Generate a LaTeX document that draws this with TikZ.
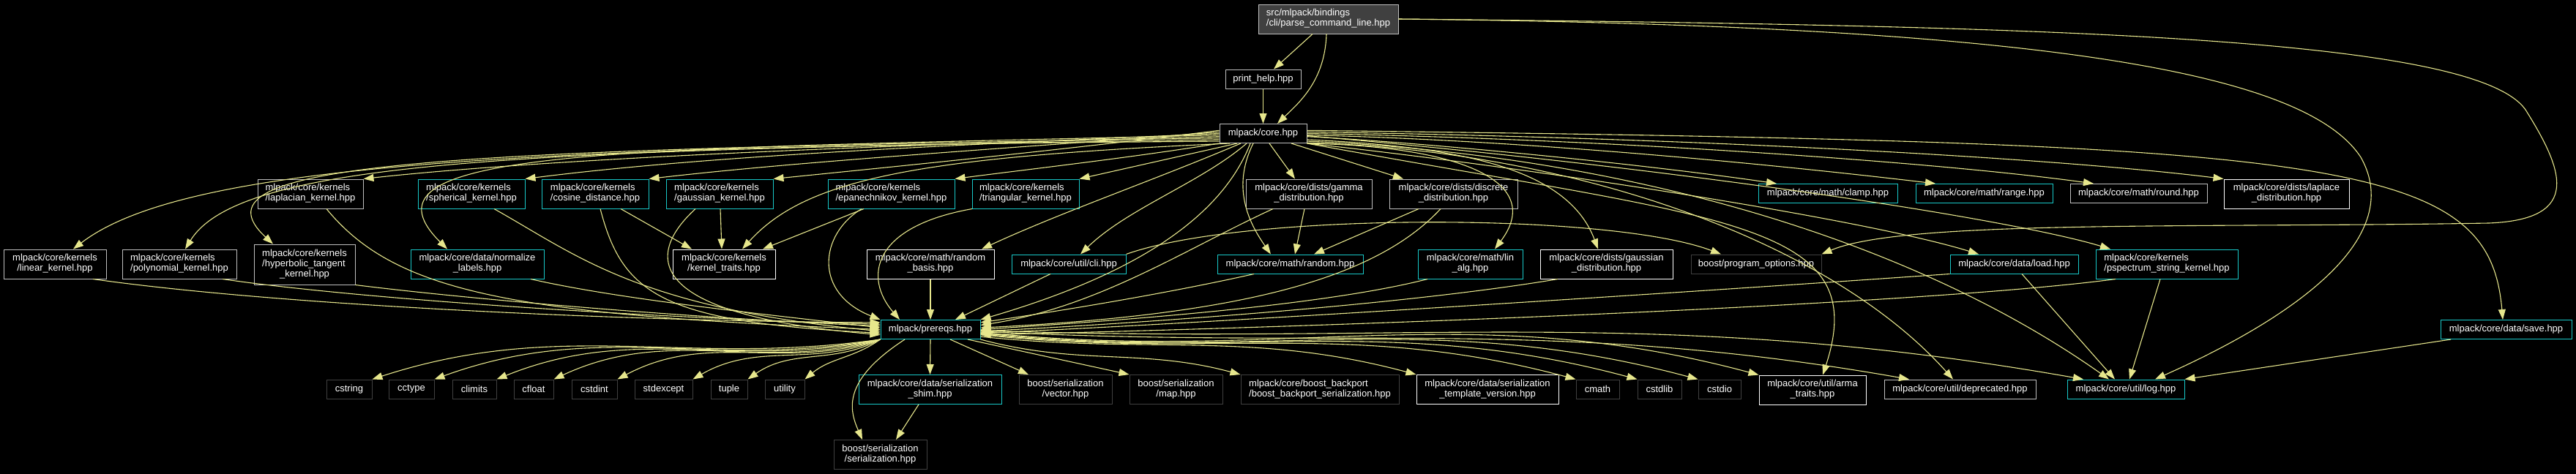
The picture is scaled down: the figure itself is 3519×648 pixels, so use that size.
\documentclass[tikz,border=0pt]{standalone}
\usepackage{fontspec}
\setmainfont{Liberation Sans}
\usetikzlibrary{arrows.meta}
\definecolor{edgeyel}{RGB}{230,230,140}
\definecolor{bordcyan}{RGB}{24,200,200}
\definecolor{bordgray}{RGB}{191,191,191}
\definecolor{borddark}{RGB}{64,64,64}
% doxygen style labels: first lines left, last line centred
\newcommand{\flabel}[2]{\begin{tabular}{@{}l@{}}#1\\\multicolumn{1}{@{}c@{}}{#2}\end{tabular}}
\newcommand{\flabelc}[3]{\begin{tabular}{@{}l@{}}#1\\#2\\\multicolumn{1}{@{}c@{}}{#3}\end{tabular}}

\begin{document}
\begin{tikzpicture}[x=0.5pt,y=-0.5pt,>={Triangle[length=7pt,width=5pt]},font=\fontsize{6.5}{7}\selectfont,
  wd/.style={minimum width=#1*0.5pt}]
\tikzstyle{f}=[draw,fill=black,text=white,align=center,inner sep=0pt,line width=0.5pt]
\tikzstyle{fg}=[f,draw=bordgray]
\tikzstyle{fw}=[f,draw=white]
\tikzstyle{fc}=[f,draw=bordcyan]
\tikzstyle{fd}=[f,draw=borddark]
\tikzstyle{one}=[minimum height=13pt]
\tikzstyle{two}=[minimum height=20pt]
\tikzstyle{e}=[->,draw=edgeyel,line width=0.55pt]
\fill[black] (0,0) rectangle (3519,648);
\useasboundingbox (0,0) rectangle (3519,648);
% files
\node[fg,fill=borddark,wd=191,two] (parse) at (1814.5,26) {\flabel{src/mlpack/bindings}{/cli/parse\_command\_line.hpp}};
\node[fg,wd=103,one] (printhelp) at (1725.5,108) {print\_help.hpp};
\node[fg,wd=119,one] (core) at (1725.5,182.5) {mlpack/core.hpp};
\node[fg,wd=144,two] (laplacian) at (424,265) {\flabel{mlpack/core/kernels}{/laplacian\_kernel.hpp}};
\node[fc,wd=146,two] (spherical) at (644,265) {\flabel{mlpack/core/kernels}{/spherical\_kernel.hpp}};
\node[fc,wd=146,two] (cosine) at (813,265) {\flabel{mlpack/core/kernels}{/cosine\_distance.hpp}};
\node[fc,wd=146,two] (gaussk) at (983,265) {\flabel{mlpack/core/kernels}{/gaussian\_kernel.hpp}};
\node[fc,wd=173,two] (epan) at (1217.5,265) {\flabel{mlpack/core/kernels}{/epanechnikov\_kernel.hpp}};
\node[fc,wd=146,two] (triang) at (1401,265) {\flabel{mlpack/core/kernels}{/triangular\_kernel.hpp}};
\node[fg,wd=172,two] (gamma) at (1788,265) {\flabel{mlpack/core/dists/gamma}{\_distribution.hpp}};
\node[fg,wd=175,two] (discrete) at (1985.5,265) {\flabel{mlpack/core/dists/discrete}{\_distribution.hpp}};
\node[fc,wd=190,one] (clamp) at (2497,264.5) {mlpack/core/math/clamp.hpp};
\node[fc,wd=187,one] (range) at (2710.5,264.5) {mlpack/core/math/range.hpp};
\node[fg,wd=187,one] (round) at (2921.5,264.5) {mlpack/core/math/round.hpp};
\node[fw,wd=171,two] (laplacedist) at (3123.5,265) {\flabel{mlpack/core/dists/laplace}{\_distribution.hpp}};
\node[fg,wd=140,two] (linear) at (75,361) {\flabel{mlpack/core/kernels}{/linear\_kernel.hpp}};
\node[fg,wd=156,two] (poly) at (245,361) {\flabel{mlpack/core/kernels}{/polynomial\_kernel.hpp}};
\node[fg,wd=138,minimum height=27.5pt] (hyper) at (416,361.5) {\flabelc{mlpack/core/kernels}{/hyperbolic\_tangent}{\_kernel.hpp}};
\node[fc,wd=182,two] (normalize) at (652,361) {\flabel{mlpack/core/data/normalize}{\_labels.hpp}};
\node[fw,wd=140,two] (ktraits) at (989,361) {\flabel{mlpack/core/kernels}{/kernel\_traits.hpp}};
\node[fw,wd=174,two] (rbasis) at (1271,361) {\flabel{mlpack/core/math/random}{\_basis.hpp}};
\node[fc,wd=156,one] (cli) at (1460,361) {mlpack/core/util/cli.hpp};
\node[fc,wd=199,one] (mrandom) at (1762.5,361) {mlpack/core/math/random.hpp};
\node[fc,wd=143,two] (linalg) at (2008.5,361) {\flabel{mlpack/core/math/lin}{\_alg.hpp}};
\node[fw,wd=181,two] (gaussdist) at (2194.5,361) {\flabel{mlpack/core/dists/gaussian}{\_distribution.hpp}};
\node[fd,wd=178,one] (progopt) at (2399,361) {boost/program\_options.hpp};
\node[fc,wd=175,one] (load) at (2751.5,361) {mlpack/core/data/load.hpp};
\node[fc,wd=194,two] (pspec) at (2960,361) {\flabel{mlpack/core/kernels}{/pspectrum\_string\_kernel.hpp}};
\node[fc,wd=136,one] (prereqs) at (1271,450.5) {mlpack/prereqs.hpp};
\node[fc,wd=179,one] (save) at (3423.5,450.5) {mlpack/core/data/save.hpp};
\foreach \n/\x/\w in {cstring/477/62,cctype/562/62,climits/648/60,cfloat/729/54,cstdint/812/62,stdexcept/906.5/79,tuple/996/50,utility/1072/54,cmath/2182.5/59,cstdlib/2267/60,cstdio/2349/58}
  \node[fd,wd=\w,one] (\n) at (\x,532) {\n};
\node[fc,wd=195,two] (shim) at (1270.5,532.5) {\flabel{mlpack/core/data/serialization}{\_shim.hpp}};
\node[fd,wd=127,two] (bvector) at (1455.5,532.5) {\flabel{boost/serialization}{/vector.hpp}};
\node[fd,wd=127,two] (bmap) at (1606.5,532.5) {\flabel{boost/serialization}{/map.hpp}};
\node[fd,wd=216,two] (backport) at (1803,532.5) {\flabel{mlpack/core/boost\_backport}{/boost\_backport\_serialization.hpp}};
\node[fw,wd=194,two] (tversion) at (2032,532.5) {\flabel{mlpack/core/data/serialization}{\_template\_version.hpp}};
\node[fw,wd=146,two] (arma) at (2476,533) {\flabel{mlpack/core/util/arma}{\_traits.hpp}};
\node[fg,wd=207,one] (deprec) at (2677.5,532) {mlpack/core/util/deprecated.hpp};
\node[fc,wd=160,one] (log) at (2904,532) {mlpack/core/util/log.hpp};
\node[fd,wd=127,two] (bserial) at (1202.5,621.5) {\flabel{boost/serialization}{/serialization.hpp}};
% top of the graph
\draw[e] (1793,0 |- parse.south) -- (1740,0 |- printhelp.north);
\draw[e] (1812,0 |- parse.south) .. controls (1810,110) and (1775,140) .. (1745,0 |- core.north);
\draw[e] (printhelp) -- (core);
\draw[e] (parse.east) .. controls (2800,35) and (3380,50) .. (3450,150) .. controls (3500,230) and (3530,300) .. (3400,305) .. controls (3000,312) and (2600,300) .. (progopt.north east);
\draw[e] (parse.east) .. controls (2800,35) and (3150,100) .. (3225,215) .. controls (3290,330) and (3120,440) .. (2944,0 |- log.north);
% core.hpp, left half
\draw[e] (core.190) .. controls (700,200) and (250,225) .. (100,0 |- linear.north);
\draw[e] (core.188) .. controls (750,205) and (330,215) .. (253,0 |- poly.north);
\draw[e] (core.186) .. controls (600,205) and (250,220) .. (373,0 |- hyper.north);
\draw[e] (core.184) .. controls (1100,200) and (700,222) .. (laplacian.north east);
\draw[e] (core.182) .. controls (850,205) and (470,200) .. (611,0 |- normalize.north);
\draw[e] (core.180) .. controls (1250,200) and (950,215) .. (spherical.north east);
\draw[e] (core.178) .. controls (1350,205) and (1100,220) .. (cosine.north east);
\draw[e] (core.176) .. controls (1450,205) and (1250,225) .. (gaussk.north east);
\draw[e] (core.south west) .. controls (1550,215) and (1400,232) .. (epan.north east);
\draw[e] (1690,0 |- core.south) -- (triang.north east);
\draw[e] (1680,0 |- core.south) .. controls (1250,215) and (1100,245) .. (1014,0 |- ktraits.north);
\draw[e] (1695,0 |- core.south) .. controls (1580,245) and (1450,290) .. (1341,0 |- rbasis.north);
\draw[e] (1703,0 |- core.south) .. controls (1640,250) and (1540,285) .. (1476,0 |- cli.north);
\draw[e] (1708,0 |- core.south) .. controls (1660,320) and (1500,390) .. (prereqs.north east);
\draw[e] (1712,0 |- core.south) .. controls (1680,260) and (1710,310) .. (1736,0 |- mrandom.north);
\draw[e] (1734,0 |- core.south) -- (1769,0 |- gamma.north);
\draw[e] (1764,0 |- core.south) -- (1917,0 |- discrete.north);
% core.hpp, right half
\draw[e] (core.south east) .. controls (2000,200) and (2110,250) .. (2042,0 |- linalg.north);
\draw[e] (core.-8) .. controls (1980,200) and (2140,225) .. (2183,0 |- gaussdist.north);
\draw[e] (core.-4) .. controls (1950,195) and (2250,225) .. (2427,0 |- clamp.north);
\draw[e] (core.-2) .. controls (2100,192) and (2450,228) .. (2644,0 |- range.north);
\draw[e] (core.0) .. controls (2200,190) and (2650,222) .. (2860,0 |- round.north);
\draw[e] (core.2) .. controls (2300,188) and (2800,215) .. (laplacedist.north west);
\draw[e] (core.4) .. controls (3200,195) and (3400,215) .. (3419,0 |- save.north);
\draw[e] (core.-10) .. controls (2200,210) and (2600,320) .. (2881,0 |- log.north);
\draw[e] (core.-12) .. controls (2150,205) and (2500,330) .. (2668,0 |- deprec.north);
\draw[e] (core.south east) .. controls (2100,230) and (2550,300) .. (2703,0 |- load.north);
\draw[e] (core.-3) .. controls (2300,230) and (2750,300) .. (2883,0 |- pspec.north);
\draw[e] (core.south east) .. controls (2350,300) and (2560,300) .. (2490,0 |- arma.north);
% kernel traits, random, log, options
\draw[e] (848,0 |- cosine.south) -- (945,0 |- ktraits.north);
\draw[e] (984,0 |- gaussk.south) -- (986,0 |- ktraits.north);
\draw[e] (1180,0 |- epan.south) -- (1042,0 |- ktraits.north);
\draw[e] (1782,0 |- gamma.south) -- (1769,0 |- mrandom.north);
\draw[e] (1938,0 |- discrete.south) -- (1795,0 |- mrandom.north);
\draw[e] (cli.north east) .. controls (1700,290) and (2200,290) .. (2351,0 |- progopt.north);
\draw[e] (2951,0 |- pspec.south) -- (2909,0 |- log.north);
\draw[e] (2762,0 |- load.south) -- (2889,0 |- log.north);
\draw[e] (3348,0 |- save.south) -- (log.north east);
% into prereqs.hpp
\draw[e] (127,0 |- linear.south) .. controls (400,420) and (900,440) .. (prereqs.172);
\draw[e] (304,0 |- poly.south) .. controls (500,410) and (900,435) .. (prereqs.174);
\draw[e] (hyper.south east) .. controls (650,410) and (950,435) .. (prereqs.176);
\draw[e] (725,0 |- normalize.south) .. controls (850,410) and (1050,430) .. (prereqs.178);
\draw[e] (446,0 |- laplacian.south) .. controls (540,400) and (700,430) .. (prereqs.180);
\draw[e] (675,0 |- spherical.south) .. controls (790,350) and (870,420) .. (prereqs.182);
\draw[e] (820,0 |- cosine.south) .. controls (850,400) and (900,440) .. (prereqs.184);
\draw[e] (950,0 |- gaussk.south) .. controls (880,350) and (880,430) .. (prereqs.186);
\draw[e] (1177,0 |- epan.south) .. controls (1120,320) and (1110,400) .. (prereqs.north west);
\draw[e] (1328,0 |- triang.south) .. controls (1190,310) and (1180,380) .. (1229,0 |- prereqs.north);
\draw[e] (rbasis) -- (prereqs);
\draw[e] (1435,0 |- cli.south) -- (1305,0 |- prereqs.north);
\draw[e] (1713,0 |- mrandom.south) .. controls (1600,400) and (1450,425) .. (prereqs.8);
\draw[e] (1739,0 |- gamma.south) .. controls (1620,340) and (1500,420) .. (prereqs.5);
\draw[e] (1968,0 |- discrete.south) .. controls (1880,380) and (1700,430) .. (prereqs.2);
\draw[e] (1950,0 |- linalg.south) .. controls (1800,420) and (1500,440) .. (prereqs.0);
\draw[e] (2128,0 |- gaussdist.south) .. controls (1900,420) and (1500,445) .. (prereqs.-2);
\draw[e] (load.south west) .. controls (2300,400) and (1600,445) .. (prereqs.-4);
\draw[e] (2890,0 |- pspec.south) .. controls (2600,420) and (1700,450) .. (prereqs.-6);
% out of prereqs.hpp
\foreach \n/\o/\i in {cstring/188/18,cctype/190/20,climits/192/22,cfloat/195/25,cstdint/198/28,stdexcept/202/30,tuple/208/35,utility/215/40}
  \draw[e] (prereqs.south west) to[out=\o,in=\i] (\n.north east);
\draw[e] (prereqs.south) -- (shim.north);
\draw[e] (1236,0 |- prereqs.south) .. controls (1150,520) and (1160,560) .. (1178,0 |- bserial.north);
\draw[e] (1255,0 |- shim.south) -- (1224,0 |- bserial.north);
\draw[e] (1298,0 |- prereqs.south) -- (1405,0 |- bvector.north);
\draw[e] (1322,0 |- prereqs.south) -- (bmap.north west);
\draw[e] (prereqs.south east) to[out=-15,in=165] (backport.north west);
\foreach \n/\a in {tversion/-8,cmath/-6,cstdlib/-5,cstdio/-4,arma/-3}
  \draw[e] (prereqs.\a) to[out=-6,in=165] (\n.north west);
\draw[e] (prereqs.-2) to[out=-3,in=170] (2608,0 |- deprec.north);
\draw[e] (prereqs.-1) to[out=-2,in=170] (2846,0 |- log.north);
\end{tikzpicture}
\end{document}
